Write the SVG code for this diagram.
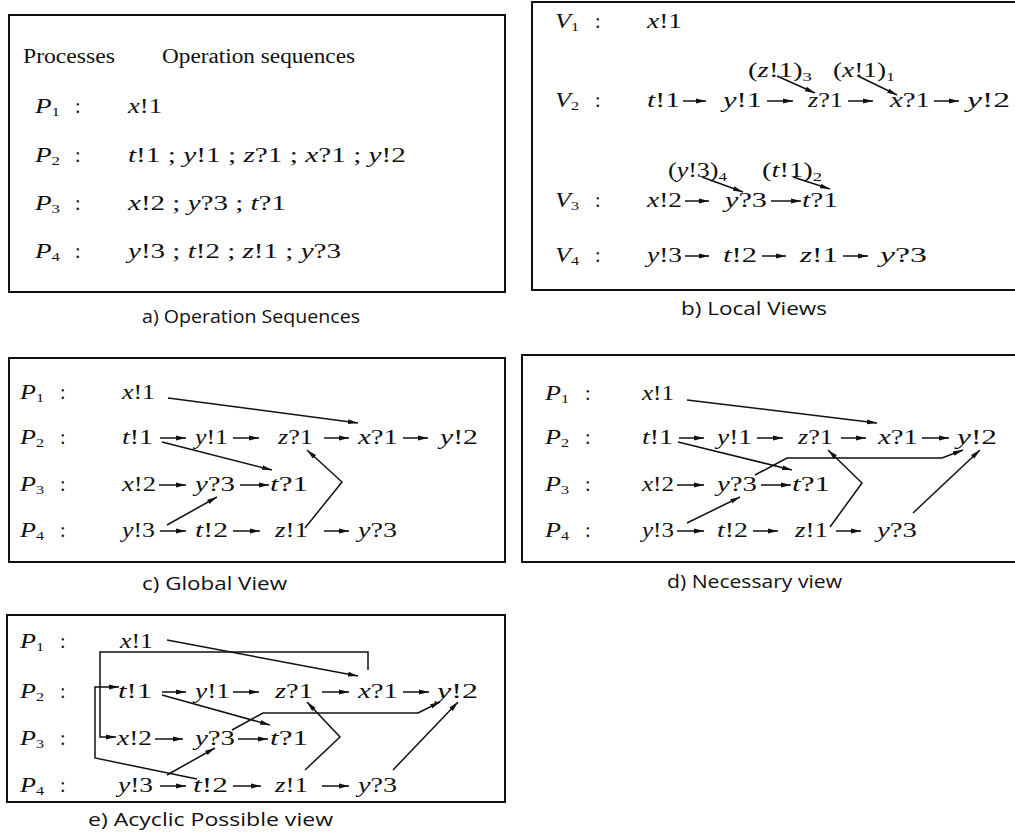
<svg xmlns="http://www.w3.org/2000/svg" width="1015" height="837" viewBox="0 0 1015 837">
<style>
.m{font-family:"Liberation Serif",serif;font-size:20px;fill:#111}
.lb{font-family:"Liberation Serif",serif;font-size:21px;fill:#111}
.i{font-style:italic}
.sub{font-size:13px}
.h{font-family:"Liberation Serif",serif;font-size:20px;fill:#111}
.cap{font-family:"Open Sans",sans-serif;font-size:18px;fill:#111}
.box{fill:none;stroke:#111;stroke-width:2}
.ar{fill:none;stroke:#111;stroke-width:1.5;marker-end:url(#ah)}
</style>
<defs>
<marker id="ah" viewBox="0 0 10 6" refX="10" refY="3" markerWidth="10" markerHeight="6" markerUnits="userSpaceOnUse" orient="auto"><path d="M0,0.6 L10,3 L0,5.4 z" fill="#111"/></marker>
</defs>
<rect width="1015" height="837" fill="#fff"/>

<!-- Panel a -->
<g id="panel-a">
<rect class="box" x="9" y="15" width="496" height="277"/>
<text class="h" x="23" y="63" textLength="92" lengthAdjust="spacingAndGlyphs">Processes</text>
<text class="h" x="162" y="63" textLength="193" lengthAdjust="spacingAndGlyphs">Operation sequences</text>
<g id="a-p1"><text class="lb" x="35" y="113" textLength="25" lengthAdjust="spacingAndGlyphs"><tspan class="i">P</tspan><tspan class="sub" dy="3">1</tspan></text><text class="m" x="75" y="113">:</text>
<text class="m" x="128" y="113" textLength="34" lengthAdjust="spacingAndGlyphs"><tspan class="i">x</tspan>!1</text></g>
<g id="a-p2"><text class="lb" x="35" y="162" textLength="25" lengthAdjust="spacingAndGlyphs"><tspan class="i">P</tspan><tspan class="sub" dy="3">2</tspan></text><text class="m" x="75" y="162">:</text>
<text class="m" x="128" y="162" textLength="278" lengthAdjust="spacingAndGlyphs"><tspan class="i">t</tspan>!1 ; <tspan class="i">y</tspan>!1 ; <tspan class="i">z</tspan>?1 ; <tspan class="i">x</tspan>?1 ; <tspan class="i">y</tspan>!2</text></g>
<g id="a-p3"><text class="lb" x="35" y="210" textLength="25" lengthAdjust="spacingAndGlyphs"><tspan class="i">P</tspan><tspan class="sub" dy="3">3</tspan></text><text class="m" x="75" y="210">:</text>
<text class="m" x="128" y="210" textLength="158" lengthAdjust="spacingAndGlyphs"><tspan class="i">x</tspan>!2 ; <tspan class="i">y</tspan>?3 ; <tspan class="i">t</tspan>?1</text></g>
<g id="a-p4"><text class="lb" x="35" y="258" textLength="25" lengthAdjust="spacingAndGlyphs"><tspan class="i">P</tspan><tspan class="sub" dy="3">4</tspan></text><text class="m" x="75" y="258">:</text>
<text class="m" x="128" y="258" textLength="213" lengthAdjust="spacingAndGlyphs"><tspan class="i">y</tspan>!3 ; <tspan class="i">t</tspan>!2 ; <tspan class="i">z</tspan>!1 ; <tspan class="i">y</tspan>?3</text></g>
<text class="cap" x="142" y="323" textLength="218" lengthAdjust="spacingAndGlyphs">a) Operation Sequences</text>
</g>

<!-- Panel b -->
<g id="panel-b">
<rect class="box" x="532" y="2" width="495" height="288"/>
<g id="b-v1"><text class="lb" x="555" y="28" textLength="24" lengthAdjust="spacingAndGlyphs"><tspan class="i">V</tspan><tspan class="sub" dy="3">1</tspan></text><text class="m" x="595" y="28">:</text></g>
<g id="b-v2"><text class="lb" x="555" y="107" textLength="24" lengthAdjust="spacingAndGlyphs"><tspan class="i">V</tspan><tspan class="sub" dy="3">2</tspan></text><text class="m" x="595" y="107">:</text></g>
<g id="b-v3"><text class="lb" x="555" y="207" textLength="24" lengthAdjust="spacingAndGlyphs"><tspan class="i">V</tspan><tspan class="sub" dy="3">3</tspan></text><text class="m" x="595" y="207">:</text></g>
<g id="b-v4"><text class="lb" x="555" y="262" textLength="24" lengthAdjust="spacingAndGlyphs"><tspan class="i">V</tspan><tspan class="sub" dy="3">4</tspan></text><text class="m" x="595" y="262">:</text></g>
<g id="b-x1"><text class="m" x="647" y="28" textLength="35" lengthAdjust="spacingAndGlyphs"><tspan class="i">x</tspan>!1</text></g>
<g id="b-t1"><text class="m" x="647" y="107" textLength="33" lengthAdjust="spacingAndGlyphs"><tspan class="i">t</tspan>!1</text></g>
<g id="b-y1"><text class="m" x="723" y="107" textLength="39" lengthAdjust="spacingAndGlyphs"><tspan class="i">y</tspan>!1</text></g>
<g id="b-z1"><text class="m" x="808" y="107" textLength="35" lengthAdjust="spacingAndGlyphs"><tspan class="i">z</tspan>?1</text></g>
<g id="b-xq1"><text class="m" x="890" y="107" textLength="40" lengthAdjust="spacingAndGlyphs"><tspan class="i">x</tspan>?1</text></g>
<g id="b-y2"><text class="m" x="967" y="107" textLength="43" lengthAdjust="spacingAndGlyphs"><tspan class="i">y</tspan>!2</text></g>
<g id="b-ann-z"><text class="m" x="748" y="77" textLength="64" lengthAdjust="spacingAndGlyphs">(<tspan class="i">z</tspan>!1)<tspan class="sub" dy="4">3</tspan></text></g>
<g id="b-ann-x"><text class="m" x="833" y="77" textLength="62" lengthAdjust="spacingAndGlyphs">(<tspan class="i">x</tspan>!1)<tspan class="sub" dy="4">1</tspan></text></g>
<g id="b-x2"><text class="m" x="647" y="207" textLength="35" lengthAdjust="spacingAndGlyphs"><tspan class="i">x</tspan>!2</text></g>
<g id="b-yq3"><text class="m" x="725" y="207" textLength="42" lengthAdjust="spacingAndGlyphs"><tspan class="i">y</tspan>?3</text></g>
<g id="b-tq1"><text class="m" x="802" y="207" textLength="36" lengthAdjust="spacingAndGlyphs"><tspan class="i">t</tspan>?1</text></g>
<g id="b-ann-y"><text class="m" x="668" y="177" textLength="59" lengthAdjust="spacingAndGlyphs">(<tspan class="i">y</tspan>!3)<tspan class="sub" dy="4">4</tspan></text></g>
<g id="b-ann-t"><text class="m" x="762" y="177" textLength="60" lengthAdjust="spacingAndGlyphs">(<tspan class="i">t</tspan>!1)<tspan class="sub" dy="4">2</tspan></text></g>
<g id="b-y3"><text class="m" x="647" y="262" textLength="35" lengthAdjust="spacingAndGlyphs"><tspan class="i">y</tspan>!3</text></g>
<g id="b-t2"><text class="m" x="723" y="262" textLength="34" lengthAdjust="spacingAndGlyphs"><tspan class="i">t</tspan>!2</text></g>
<g id="b-zb1"><text class="m" x="800" y="262" textLength="38" lengthAdjust="spacingAndGlyphs"><tspan class="i">z</tspan>!1</text></g>
<g id="b-yq3b"><text class="m" x="880" y="262" textLength="47" lengthAdjust="spacingAndGlyphs"><tspan class="i">y</tspan>?3</text></g>
<text class="cap" x="681" y="315" textLength="146" lengthAdjust="spacingAndGlyphs">b) Local Views</text>
</g>

<!-- Panel c -->
<g id="panel-c">
<rect class="box" x="9" y="358" width="496" height="204"/>
<g id="c-p1"><text class="lb" x="20" y="399" textLength="24" lengthAdjust="spacingAndGlyphs"><tspan class="i">P</tspan><tspan class="sub" dy="3">1</tspan></text><text class="m" x="60" y="399">:</text></g>
<g id="c-p2"><text class="lb" x="20" y="444" textLength="24" lengthAdjust="spacingAndGlyphs"><tspan class="i">P</tspan><tspan class="sub" dy="3">2</tspan></text><text class="m" x="60" y="444">:</text></g>
<g id="c-p3"><text class="lb" x="20" y="491" textLength="24" lengthAdjust="spacingAndGlyphs"><tspan class="i">P</tspan><tspan class="sub" dy="3">3</tspan></text><text class="m" x="60" y="491">:</text></g>
<g id="c-p4"><text class="lb" x="20" y="537" textLength="24" lengthAdjust="spacingAndGlyphs"><tspan class="i">P</tspan><tspan class="sub" dy="3">4</tspan></text><text class="m" x="60" y="537">:</text></g>
<g id="c-x1"><text class="m" x="122" y="399" textLength="33" lengthAdjust="spacingAndGlyphs"><tspan class="i">x</tspan>!1</text></g>
<g id="c-t1"><text class="m" x="122" y="444" textLength="31" lengthAdjust="spacingAndGlyphs"><tspan class="i">t</tspan>!1</text></g>
<g id="c-y1"><text class="m" x="195" y="444" textLength="33" lengthAdjust="spacingAndGlyphs"><tspan class="i">y</tspan>!1</text></g>
<g id="c-zq1"><text class="m" x="278" y="444" textLength="35" lengthAdjust="spacingAndGlyphs"><tspan class="i">z</tspan>?1</text></g>
<g id="c-xq1"><text class="m" x="358" y="444" textLength="40" lengthAdjust="spacingAndGlyphs"><tspan class="i">x</tspan>?1</text></g>
<g id="c-y2"><text class="m" x="440" y="444" textLength="38" lengthAdjust="spacingAndGlyphs"><tspan class="i">y</tspan>!2</text></g>
<g id="c-x2"><text class="m" x="122" y="491" textLength="34" lengthAdjust="spacingAndGlyphs"><tspan class="i">x</tspan>!2</text></g>
<g id="c-yq3"><text class="m" x="195" y="491" textLength="40" lengthAdjust="spacingAndGlyphs"><tspan class="i">y</tspan>?3</text></g>
<g id="c-tq1"><text class="m" x="270" y="491" textLength="38" lengthAdjust="spacingAndGlyphs"><tspan class="i">t</tspan>?1</text></g>
<g id="c-y3"><text class="m" x="122" y="537" textLength="33" lengthAdjust="spacingAndGlyphs"><tspan class="i">y</tspan>!3</text></g>
<g id="c-t2"><text class="m" x="195" y="537" textLength="33" lengthAdjust="spacingAndGlyphs"><tspan class="i">t</tspan>!2</text></g>
<g id="c-z1"><text class="m" x="275" y="537" textLength="33" lengthAdjust="spacingAndGlyphs"><tspan class="i">z</tspan>!1</text></g>
<g id="c-yq3b"><text class="m" x="358" y="537" textLength="39" lengthAdjust="spacingAndGlyphs"><tspan class="i">y</tspan>?3</text></g>
<text class="cap" x="142" y="590" textLength="145" lengthAdjust="spacingAndGlyphs">c) Global View</text>
</g>

<!-- Panel d -->
<g id="panel-d">
<rect class="box" x="522" y="355" width="505" height="207"/>
<g id="d-p1"><text class="lb" x="545" y="400" textLength="24" lengthAdjust="spacingAndGlyphs"><tspan class="i">P</tspan><tspan class="sub" dy="3">1</tspan></text><text class="m" x="585" y="400">:</text></g>
<g id="d-p2"><text class="lb" x="545" y="444" textLength="24" lengthAdjust="spacingAndGlyphs"><tspan class="i">P</tspan><tspan class="sub" dy="3">2</tspan></text><text class="m" x="585" y="444">:</text></g>
<g id="d-p3"><text class="lb" x="545" y="491" textLength="24" lengthAdjust="spacingAndGlyphs"><tspan class="i">P</tspan><tspan class="sub" dy="3">3</tspan></text><text class="m" x="585" y="491">:</text></g>
<g id="d-p4"><text class="lb" x="545" y="537" textLength="24" lengthAdjust="spacingAndGlyphs"><tspan class="i">P</tspan><tspan class="sub" dy="3">4</tspan></text><text class="m" x="585" y="537">:</text></g>
<g id="d-x1"><text class="m" x="642" y="400" textLength="32" lengthAdjust="spacingAndGlyphs"><tspan class="i">x</tspan>!1</text></g>
<g id="d-t1"><text class="m" x="642" y="444" textLength="31" lengthAdjust="spacingAndGlyphs"><tspan class="i">t</tspan>!1</text></g>
<g id="d-y1"><text class="m" x="717" y="444" textLength="35" lengthAdjust="spacingAndGlyphs"><tspan class="i">y</tspan>!1</text></g>
<g id="d-zq1"><text class="m" x="798" y="444" textLength="35" lengthAdjust="spacingAndGlyphs"><tspan class="i">z</tspan>?1</text></g>
<g id="d-xq1"><text class="m" x="878" y="444" textLength="40" lengthAdjust="spacingAndGlyphs"><tspan class="i">x</tspan>?1</text></g>
<g id="d-y2"><text class="m" x="957" y="444" textLength="40" lengthAdjust="spacingAndGlyphs"><tspan class="i">y</tspan>!2</text></g>
<g id="d-x2"><text class="m" x="642" y="491" textLength="32" lengthAdjust="spacingAndGlyphs"><tspan class="i">x</tspan>!2</text></g>
<g id="d-yq3"><text class="m" x="717" y="491" textLength="40" lengthAdjust="spacingAndGlyphs"><tspan class="i">y</tspan>?3</text></g>
<g id="d-tq1"><text class="m" x="792" y="491" textLength="38" lengthAdjust="spacingAndGlyphs"><tspan class="i">t</tspan>?1</text></g>
<g id="d-y3"><text class="m" x="642" y="537" textLength="32" lengthAdjust="spacingAndGlyphs"><tspan class="i">y</tspan>!3</text></g>
<g id="d-t2"><text class="m" x="717" y="537" textLength="31" lengthAdjust="spacingAndGlyphs"><tspan class="i">t</tspan>!2</text></g>
<g id="d-z1"><text class="m" x="795" y="537" textLength="33" lengthAdjust="spacingAndGlyphs"><tspan class="i">z</tspan>!1</text></g>
<g id="d-yq3b"><text class="m" x="877" y="537" textLength="40" lengthAdjust="spacingAndGlyphs"><tspan class="i">y</tspan>?3</text></g>
<text class="cap" x="667" y="588" textLength="175" lengthAdjust="spacingAndGlyphs">d) Necessary view</text>
</g>

<!-- Panel e -->
<g id="panel-e">
<rect class="box" x="7" y="615" width="498" height="187"/>
<g id="e-p1"><text class="lb" x="20" y="648" textLength="24" lengthAdjust="spacingAndGlyphs"><tspan class="i">P</tspan><tspan class="sub" dy="3">1</tspan></text><text class="m" x="60" y="648">:</text></g>
<g id="e-p2"><text class="lb" x="20" y="698" textLength="24" lengthAdjust="spacingAndGlyphs"><tspan class="i">P</tspan><tspan class="sub" dy="3">2</tspan></text><text class="m" x="60" y="698">:</text></g>
<g id="e-p3"><text class="lb" x="20" y="745" textLength="24" lengthAdjust="spacingAndGlyphs"><tspan class="i">P</tspan><tspan class="sub" dy="3">3</tspan></text><text class="m" x="60" y="745">:</text></g>
<g id="e-p4"><text class="lb" x="20" y="792" textLength="24" lengthAdjust="spacingAndGlyphs"><tspan class="i">P</tspan><tspan class="sub" dy="3">4</tspan></text><text class="m" x="60" y="792">:</text></g>
<g id="e-x1"><text class="m" x="120" y="648" textLength="33" lengthAdjust="spacingAndGlyphs"><tspan class="i">x</tspan>!1</text></g>
<g id="e-t1"><text class="m" x="118" y="698" textLength="34" lengthAdjust="spacingAndGlyphs"><tspan class="i">t</tspan>!1</text></g>
<g id="e-y1"><text class="m" x="195" y="698" textLength="35" lengthAdjust="spacingAndGlyphs"><tspan class="i">y</tspan>!1</text></g>
<g id="e-zq1"><text class="m" x="275" y="698" textLength="38" lengthAdjust="spacingAndGlyphs"><tspan class="i">z</tspan>?1</text></g>
<g id="e-xq1"><text class="m" x="358" y="698" textLength="40" lengthAdjust="spacingAndGlyphs"><tspan class="i">x</tspan>?1</text></g>
<g id="e-y2"><text class="m" x="437" y="698" textLength="41" lengthAdjust="spacingAndGlyphs"><tspan class="i">y</tspan>!2</text></g>
<g id="e-x2"><text class="m" x="117" y="745" textLength="35" lengthAdjust="spacingAndGlyphs"><tspan class="i">x</tspan>!2</text></g>
<g id="e-yq3"><text class="m" x="195" y="745" textLength="40" lengthAdjust="spacingAndGlyphs"><tspan class="i">y</tspan>?3</text></g>
<g id="e-tq1"><text class="m" x="270" y="745" textLength="38" lengthAdjust="spacingAndGlyphs"><tspan class="i">t</tspan>?1</text></g>
<g id="e-y3"><text class="m" x="118" y="792" textLength="35" lengthAdjust="spacingAndGlyphs"><tspan class="i">y</tspan>!3</text></g>
<g id="e-t2"><text class="m" x="193" y="792" textLength="35" lengthAdjust="spacingAndGlyphs"><tspan class="i">t</tspan>!2</text></g>
<g id="e-z1"><text class="m" x="275" y="792" textLength="33" lengthAdjust="spacingAndGlyphs"><tspan class="i">z</tspan>!1</text></g>
<g id="e-yq3b"><text class="m" x="358" y="792" textLength="39" lengthAdjust="spacingAndGlyphs"><tspan class="i">y</tspan>?3</text></g>
<text class="cap" x="88" y="826" textLength="245" lengthAdjust="spacingAndGlyphs">e) Acyclic Possible view</text>
</g>

<!-- Connectors -->
<g id="connectors">
<!-- b -->
<line class="ar" x1="683" y1="101" x2="706" y2="101"/>
<line class="ar" x1="767" y1="101" x2="793" y2="101"/>
<line class="ar" x1="848" y1="101" x2="873" y2="101"/>
<line class="ar" x1="934" y1="101" x2="959" y2="101"/>
<line class="ar" x1="777" y1="76" x2="815" y2="93"/>
<line class="ar" x1="858" y1="76" x2="897" y2="95"/>
<line class="ar" x1="685" y1="201" x2="709" y2="201"/>
<line class="ar" x1="771" y1="201" x2="801" y2="201"/>
<line class="ar" x1="702" y1="177" x2="743" y2="192"/>
<line class="ar" x1="793" y1="177" x2="830" y2="189"/>
<line class="ar" x1="685" y1="256" x2="709" y2="256"/>
<line class="ar" x1="762" y1="256" x2="786" y2="256"/>
<line class="ar" x1="843" y1="256" x2="868" y2="256"/>
<!-- c -->
<line class="ar" x1="160" y1="438" x2="186" y2="438"/>
<line class="ar" x1="233" y1="438" x2="259" y2="438"/>
<line class="ar" x1="324" y1="438" x2="349" y2="438"/>
<line class="ar" x1="403" y1="438" x2="428" y2="438"/>
<line class="ar" x1="159" y1="485" x2="186" y2="485"/>
<line class="ar" x1="240" y1="485" x2="269" y2="485"/>
<line class="ar" x1="160" y1="531" x2="186" y2="531"/>
<line class="ar" x1="233" y1="531" x2="260" y2="531"/>
<line class="ar" x1="324" y1="531" x2="349" y2="531"/>
<line class="ar" x1="168" y1="398" x2="358" y2="423"/>
<line class="ar" x1="162" y1="442" x2="272" y2="470"/>
<line class="ar" x1="167" y1="525" x2="217" y2="497"/>
<polyline class="ar" points="305,528 342,482 307,450"/>
<!-- d -->
<line class="ar" x1="679" y1="438" x2="704" y2="438"/>
<line class="ar" x1="757" y1="438" x2="783" y2="438"/>
<line class="ar" x1="841" y1="438" x2="866" y2="438"/>
<line class="ar" x1="922" y1="438" x2="949" y2="438"/>
<line class="ar" x1="677" y1="485" x2="704" y2="485"/>
<line class="ar" x1="761" y1="485" x2="791" y2="485"/>
<line class="ar" x1="677" y1="531" x2="704" y2="531"/>
<line class="ar" x1="753" y1="531" x2="778" y2="531"/>
<line class="ar" x1="836" y1="531" x2="861" y2="531"/>
<line class="ar" x1="687" y1="400" x2="877" y2="423"/>
<line class="ar" x1="678" y1="442" x2="792" y2="470"/>
<line class="ar" x1="687" y1="523" x2="740" y2="497"/>
<polyline class="ar" points="830,527 862,483 828,450"/>
<polyline class="ar" points="755,475 787,458 942,458 963,450"/>
<line class="ar" x1="913" y1="513" x2="980" y2="450"/>
<!-- e -->
<line class="ar" x1="162" y1="692" x2="186" y2="692"/>
<line class="ar" x1="233" y1="692" x2="259" y2="692"/>
<line class="ar" x1="322" y1="692" x2="349" y2="692"/>
<line class="ar" x1="403" y1="692" x2="429" y2="692"/>
<line class="ar" x1="155" y1="739" x2="183" y2="739"/>
<line class="ar" x1="238" y1="739" x2="268" y2="739"/>
<line class="ar" x1="160" y1="786" x2="186" y2="786"/>
<line class="ar" x1="233" y1="786" x2="261" y2="786"/>
<line class="ar" x1="322" y1="786" x2="349" y2="786"/>
<line class="ar" x1="167" y1="640" x2="358" y2="676"/>
<polyline class="ar" points="368,670 368,652 100,652 100,737 116,737"/>
<polyline class="ar" points="197,779 95,758 95,687 119,687"/>
<line class="ar" x1="162" y1="695" x2="270" y2="725"/>
<line class="ar" x1="167" y1="775" x2="215" y2="748"/>
<polyline class="ar" points="305,770 340,737 307,702"/>
<polyline class="ar" points="232,730 263,713 418,713 440,702"/>
<line class="ar" x1="393" y1="770" x2="458" y2="702"/>
</g>
</svg>
